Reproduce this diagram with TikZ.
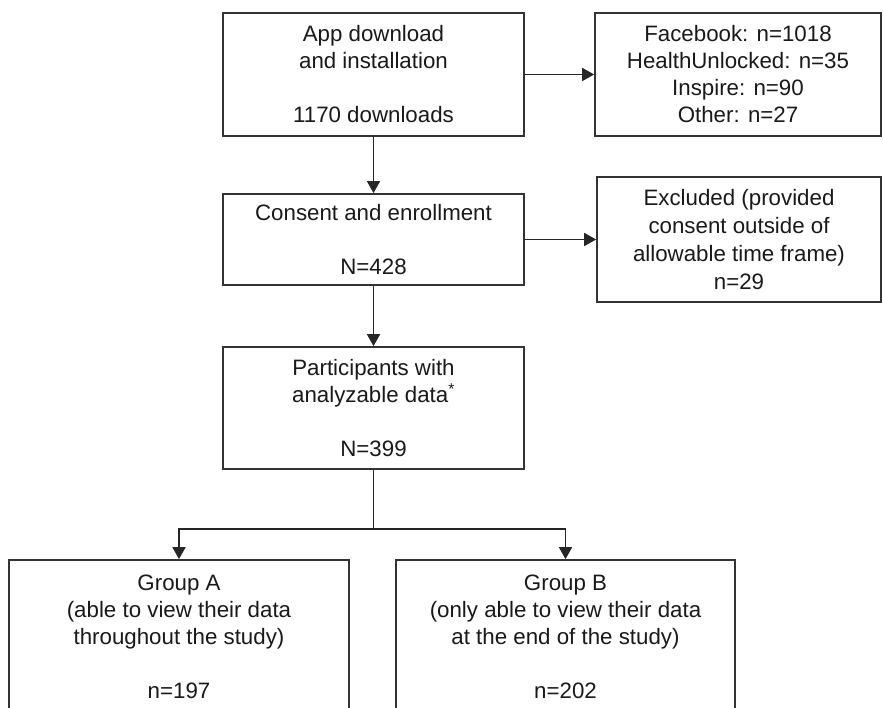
\documentclass[tikz,border=0pt]{standalone}
\usepackage{fontspec}
\setmainfont{Liberation Sans}
\usetikzlibrary{arrows.meta}

\begin{document}
\begin{tikzpicture}[x=1pt,y=-1pt,thick]
\tikzset{
box/.style = {draw=black!80,line width=1.7pt,align=center,inner sep=0pt,text=black!90,font=\fontsize{22.3}{27}\selectfont},
arr/.style = {draw=black!85,line width=1.7pt,-{Triangle[length=12pt,width=13pt]}},
line/.style = {draw=black!85,line width=1.7pt},
}
\useasboundingbox (0,0) rectangle (883,708);
    %
% Main column.
\node[box,minimum width=301pt,minimum height=123pt] (dl) at (373.5,74.5)
  {App download\\and installation\\[27pt]1170 downloads};
\node[box,minimum width=301pt,minimum height=91pt] (cons) at (373.5,239.5)
  {Consent and enrollment\\[27pt]N=428};
\node[box,minimum width=301pt,minimum height=122pt] (part) at (373.5,408)
  {Participants with\\analyzable data\textsuperscript{*}\\[27pt]N=399};
    % Side boxes.
\node[box,minimum width=286pt,minimum height=123pt] (src) at (738,74.5)
  {Facebook: n=1018\\HealthUnlocked: n=35\\Inspire: n=90\\Other: n=27};
\node[box,minimum width=284pt,minimum height=125pt,font=\fontsize{22.3}{28}\selectfont] (excl) at (739,239.5)
  {Excluded (provided\\consent outside of\\allowable time frame)\\n=29};
    % Groups.
\node[box,minimum width=340pt,minimum height=154pt] (grpA) at (179,637)
  {Group A\\(able to view their data\\throughout the study)\\[27pt]n=197};
\node[box,minimum width=339pt,minimum height=154pt] (grpB) at (565.5,637)
  {Group B\\(only able to view their data\\at the end of the study)\\[27pt]n=202};
\coordinate (split) at (part.south |- 0,529);

% Connectors.
\draw[arr] (dl) -- (src);
\draw[arr] (dl) -- (cons);
\draw[arr] (cons) -- (excl);
\draw[arr] (cons) -- (part);
\draw[line] (part) -- (split);
\draw[arr] (split) -| (grpA);
\draw[arr] (split) -| (grpB);
    %
\end{tikzpicture}
\end{document}
